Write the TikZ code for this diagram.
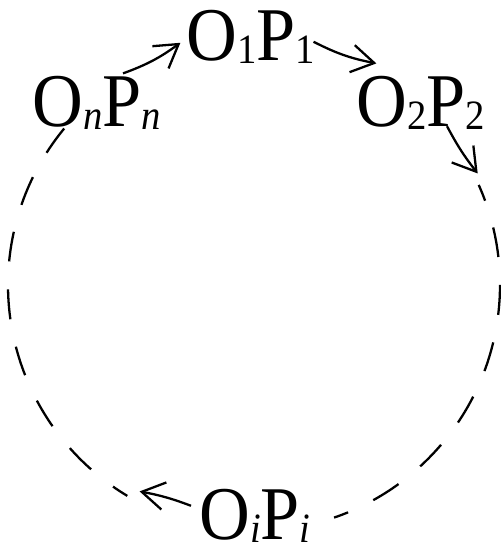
\documentclass[tikz,border=0pt]{standalone}
\usepackage{fontspec}
\setmainfont{Liberation Serif}
\usetikzlibrary{calc, positioning}
\usetikzlibrary{arrows.meta}

\newcommand{\lowidx}[1]{\raisebox{-0.05em}{\fontsize{22}{22}\selectfont #1}}
\newcommand{\tall}[1]{\scalebox{1}[1.08]{#1}}

\begin{document}
\begin{tikzpicture}[x=0.02cm,y=-0.02cm,
  lbl/.style={inner sep=0pt, anchor=base, font=\fontsize{40}{44}\selectfont},
  arr/.style={-{Straight Barb[length=4.5mm,width=5.5mm]}, line width=1.3pt},
  ring/.style={line width=1.3pt, dash pattern=on 0.6cm off 0.56cm, dash phase=0.26cm}]
\useasboundingbox (0,0) rectangle (501,556);
\coordinate (M) at (254,285);
\coordinate (T2) at ($(M)+(-26.5:250)$);
\coordinate (Ti) at ($(M)+(119:236)$);

\node[lbl] (O1) at (251,60) {\tall{O\lowidx{1}P\lowidx{1}}};
\node[lbl] (O2) at (421,126) {\tall{O\lowidx{2}P\lowidx{2}}};
\node[lbl] (On) at (97,126) {\tall{O\lowidx{\textit{n}}P\lowidx{\textit{n}}}};
\node[lbl] (Oi) at (255,539) {\tall{O\lowidx{\textit{i}}P\lowidx{\textit{i}}}};

\draw[arr] ($(On.north)+(26,-2)$) to[bend right=8] ($(O1.west)+(-6,6)$);
\draw[arr] ($(O1.east)+(-2,5)$) to[bend right=8] ($(O2.north west)+(20,-12)$);
\draw[arr] ($(O2.south)+(26,-4)$) to[bend right=5] (T2);
\draw[arr] ($(Oi.west)+(-8,-10)$) to[bend right=5] (Ti);

\draw[ring] ($(M)+(-24:246)$) arc[start angle=-24, end angle=71, radius=246];
\draw[ring] ($(M)+(121:246)$) arc[start angle=121, end angle=220, radius=246];
\end{tikzpicture}
\end{document}
